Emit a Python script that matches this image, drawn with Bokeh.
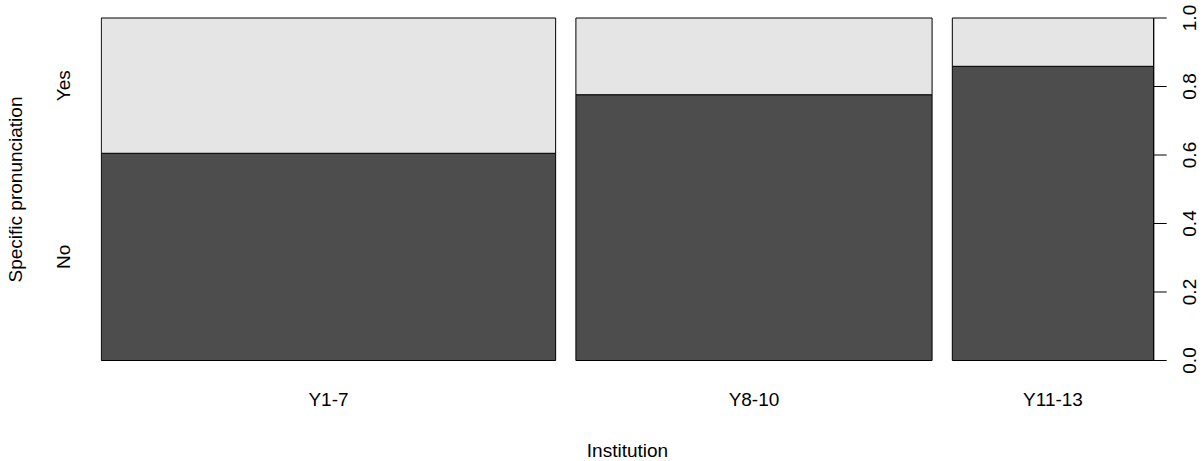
import math
from bokeh.plotting import figure
from bokeh.layouts import column
from bokeh.models import Range1d, FixedTicker, ColumnDataSource
from bokeh.core.properties import value
from bokeh.embed import file_html
from bokeh.resources import INLINE

# Spineplot: Specific pronunciation by Institution
groups = ["Y1-7", "Y8-10", "Y11-13"]
group_share = [0.449, 0.352, 0.199]      # share of observations per institution
no_share = [0.605, 0.776, 0.859]         # conditional proportion answering "No"
levels = ["No", "Yes"]
prop_ticks = [0.0, 0.2, 0.4, 0.6, 0.8, 1.0]
x_title = "Institution"
y_title = "Specific pronunciation"
off = 0.02                               # gap between spines

FONT = "Liberation Sans"
FSIZE = "19px"
DARK = "#4D4D4D"
LIGHT = "#E5E5E5"

# page geometry (pixels)
W, H = 1203, 461
TITLE_H = 30            # strip under the chart holding the x title
BORDER_LEFT, BORDER_BOTTOM = 100, 53
SPINE_W = 1054          # horizontal extent of the spines
SPINE_TOP, SPINE_BOTTOM = 17, 360.5
MAIN_H = H - TITLE_H

# bar edges along x
lefts, rights, centers = [], [], []
pos = 0.0
for w in group_share:
    lefts.append(pos)
    rights.append(pos + w)
    centers.append(pos + w / 2)
    pos += w + off
xmax = pos - off

# the frame reaches the right, top and bottom edges so the proportion
# scale can be written beside the last spine
pad_x, pad_y = 0.0008, 0.0015
frame_w = W - BORDER_LEFT
frame_h = MAIN_H - BORDER_BOTTOM
kx = SPINE_W / (xmax + 2 * pad_x)
ky = (SPINE_BOTTOM - SPINE_TOP) / (1 + 2 * pad_y)
x0 = -pad_x
x1 = x0 + frame_w / kx
y1 = 1 + pad_y + SPINE_TOP / ky
y0 = -pad_y - (frame_h - SPINE_BOTTOM) / ky
x_range = Range1d(x0, x1)

src_no = ColumnDataSource(dict(left=lefts, right=rights,
                               bottom=[0.0] * 3, top=no_share))
src_yes = ColumnDataSource(dict(left=lefts, right=rights,
                                bottom=no_share, top=[1.0] * 3))

p = figure(width=W, height=MAIN_H, output_backend="svg", toolbar_location=None,
           x_range=x_range, y_range=Range1d(y0, y1),
           min_border_left=BORDER_LEFT, min_border_right=0,
           min_border_top=0, min_border_bottom=BORDER_BOTTOM)
p.outline_line_color = None
p.grid.visible = False
p.background_fill_color = "white"
p.border_fill_color = "white"

p.quad(left="left", right="right", bottom="bottom", top="top", source=src_no,
       fill_color=DARK, line_color="black", line_width=1)
p.quad(left="left", right="right", bottom="bottom", top="top", source=src_yes,
       fill_color=LIGHT, line_color="black", line_width=1)

# x axis: institution names under each spine
xa = p.xaxis[0]
xa.ticker = FixedTicker(ticks=centers)
xa.major_label_overrides = {c: g for c, g in zip(centers, groups)}
xa.axis_line_color = None
xa.major_tick_line_color = None
xa.minor_tick_line_color = None
xa.major_tick_out = 0
xa.major_label_standoff = 10
xa.major_label_text_font = FONT
xa.major_label_text_font_size = FSIZE
xa.major_label_text_color = "black"

# left axis: response levels at the middle of the first spine's segments
mids = [round(no_share[0] / 2, 6), round((no_share[0] + 1) / 2, 6)]
ya = p.yaxis[0]
ya.ticker = FixedTicker(ticks=mids)
ya.major_label_overrides = {m: l for m, l in zip(mids, levels)}
ya.major_label_orientation = "parallel"
ya.axis_line_color = None
ya.major_tick_line_color = None
ya.minor_tick_line_color = None
ya.major_tick_out = 0
ya.major_label_standoff = 26
ya.major_label_text_font = FONT
ya.major_label_text_font_size = FSIZE
ya.major_label_text_color = "black"
ya.axis_label = y_title
ya.axis_label_standoff = 25
ya.axis_label_text_font = FONT
ya.axis_label_text_font_size = FSIZE
ya.axis_label_text_font_style = "normal"
ya.axis_label_text_color = "black"

# proportion scale on the right of the last spine: axis line, ticks, labels
scale_src = ColumnDataSource(dict(x=[xmax] * len(prop_ticks), y=prop_ticks,
                                  text=[f"{t:.1f}" for t in prop_ticks]))
p.segment(x0=xmax, y0=prop_ticks[0], x1=xmax, y1=prop_ticks[-1],
          line_color="black", line_width=1)
p.ray(x="x", y="y", source=scale_src, length=13, length_units="screen",
      angle=0, line_color="black", line_width=1)
p.text(x="x", y="y", text="text", source=scale_src,
       x_offset=36, angle=math.pi / 2,
       text_align="center", text_baseline="middle",
       text_font=value(FONT), text_font_size=value(FSIZE),
       text_color="black")

# x title, centred under the spines in a strip sharing the x scale
t = figure(width=W, height=TITLE_H, output_backend="svg", toolbar_location=None,
           x_range=x_range, y_range=Range1d(0, TITLE_H),
           x_axis_type=None, y_axis_type=None,
           min_border_left=BORDER_LEFT, min_border_right=0,
           min_border_top=0, min_border_bottom=0)
t.outline_line_color = None
t.background_fill_color = "white"
t.border_fill_color = "white"
t.text(x=[xmax / 2], y=[11], text=[x_title],
       text_align="center", text_baseline="middle",
       text_font=value(FONT), text_font_size=value(FSIZE),
       text_color="black")

layout = column(p, t, spacing=0)
open("out.html", "w").write(file_html(layout, INLINE))
